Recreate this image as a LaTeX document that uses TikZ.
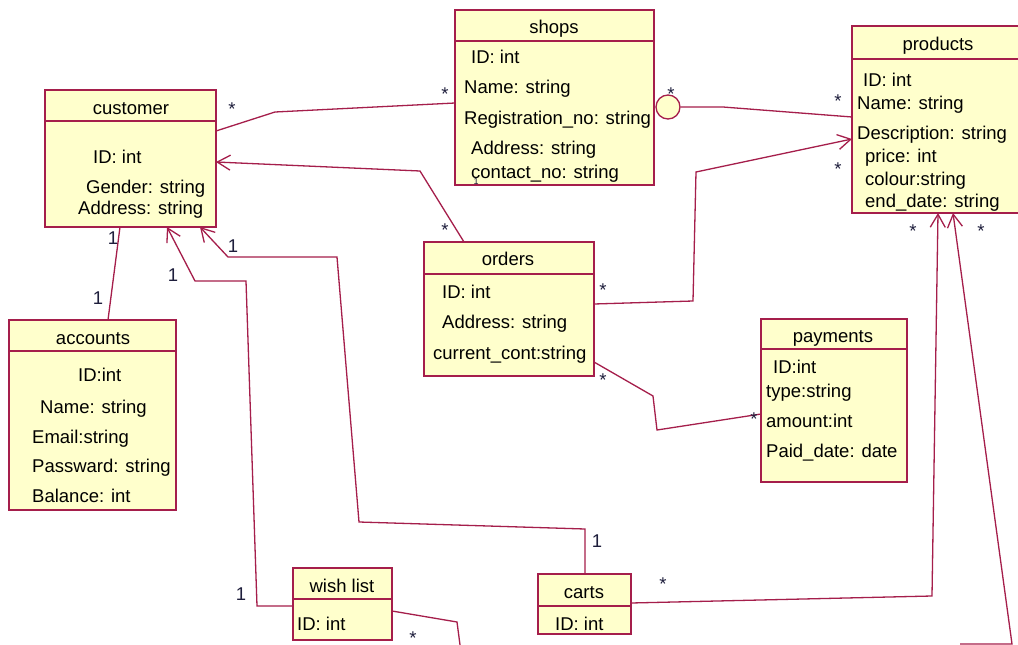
\documentclass[tikz,border=0pt]{standalone}
\usepackage{fontspec}
\setmainfont{Liberation Sans}
\usetikzlibrary{arrows.meta}
\definecolor{umlline}{RGB}{165,30,75}
\definecolor{umlfill}{RGB}{255,255,204}
\definecolor{lbl}{RGB}{30,30,60}
\tikzset{
  classbox/.style={draw=umlline, fill=umlfill, line width=1.5pt, anchor=north west, inner sep=0pt, outer sep=0pt},
  sepline/.style={draw=umlline, line width=1.5pt},
  attr/.style={anchor=base west, inner sep=0pt, font=\fontsize{18.5}{22}\selectfont},
  ttl/.style={anchor=base, inner sep=0pt, font=\fontsize{18.5}{22}\selectfont},
  conn/.style={draw=umlline, line width=1.3pt},
  arr/.style={conn, -{Straight Barb[length=13pt, width=15pt]}},
  mult/.style={inner sep=0pt, text=lbl, font=\fontsize{18.5}{22}\selectfont},
  star/.style={inner sep=0pt, anchor=north, text=lbl, font=\fontsize{18.5}{22}\selectfont}
}
\begin{document}
\begin{tikzpicture}[x=1pt,y=-1pt]
\useasboundingbox (0,0) rectangle (1018,645);
\fill[white] (0,0) rectangle (1018,645);
\clip (0,0) rectangle (1018,645);

% ---------- classes ----------
% customer
\node[classbox, minimum width=171pt, minimum height=137pt] (customer) at (45,90) {};
\draw[sepline] (customer.west |- 0,121) -- (customer.east |- 0,121);
\node[ttl] (customerT) at (131,114) {customer};
\node[attr] (customerA1) at (93,163) {ID: int};
\node[attr] (customerA2) at (86,193) {Gender: string};
\node[attr] (customerA3) at (78,214) {Address: string};

% shops
\node[classbox, minimum width=199pt, minimum height=175pt] (shops) at (455,10) {};
\draw[sepline] (shops.west |- 0,41) -- (shops.east |- 0,41);
\node[ttl] (shopsT) at (554,34) {shops};
\node[attr] (shopsA1) at (471,63) {ID: int};
\node[attr] (shopsA2) at (464,93) {Name: string};
\node[attr] (shopsA3) at (464,124) {Registration\_no: string};
\node[attr] (shopsA4) at (471,154) {Address: string};
\node[attr] (shopsA5) at (471,178) {contact\_no: string};

% products
\node[classbox, minimum width=174pt, minimum height=187pt] (products) at (852,26) {};
\draw[sepline] (products.west |- 0,59) -- (products.east |- 0,59);
\node[ttl] (productsT) at (938,50) {products};
\node[attr] (productsA1) at (863,86) {ID: int};
\node[attr] (productsA2) at (857,109) {Name: string};
\node[attr] (productsA3) at (857,139) {Description: string};
\node[attr] (productsA4) at (865,162) {price: int};
\node[attr] (productsA5) at (865,185) {colour:string};
\node[attr] (productsA6) at (865,207) {end\_date: string};

% orders
\node[classbox, minimum width=170pt, minimum height=134pt] (orders) at (424,242) {};
\draw[sepline] (orders.west |- 0,274) -- (orders.east |- 0,274);
\node[ttl] (ordersT) at (508,265) {orders};
\node[attr] (ordersA1) at (442,298) {ID: int};
\node[attr] (ordersA2) at (442,328) {Address: string};
\node[attr] (ordersA3) at (433,359) {current\_cont:string};

% payments
\node[classbox, minimum width=146pt, minimum height=163pt] (payments) at (761,319) {};
\draw[sepline] (payments.west |- 0,349) -- (payments.east |- 0,349);
\node[ttl] (paymentsT) at (833,342) {payments};
\node[attr] (paymentsA1) at (773,373) {ID:int};
\node[attr] (paymentsA2) at (766,397) {type:string};
\node[attr] (paymentsA3) at (766,427) {amount:int};
\node[attr] (paymentsA4) at (766,457) {Paid\_date: date};

% accounts
\node[classbox, minimum width=167pt, minimum height=190pt] (accounts) at (9,320) {};
\draw[sepline] (accounts.west |- 0,351) -- (accounts.east |- 0,351);
\node[ttl] (accountsT) at (93,344) {accounts};
\node[attr] (accountsA1) at (78,381) {ID:int};
\node[attr] (accountsA2) at (40,413) {Name: string};
\node[attr] (accountsA3) at (32,443) {Email:string};
\node[attr] (accountsA4) at (32,472) {Passward: string};
\node[attr] (accountsA5) at (32,502) {Balance: int};

% wish list
\node[classbox, minimum width=99pt, minimum height=72pt] (wish) at (293,568) {};
\draw[sepline] (wish.west |- 0,599) -- (wish.east |- 0,599);
\node[ttl] (wishT) at (342,592) {wish list};
\node[attr] (wishA1) at (297,630) {ID: int};

% carts
\node[classbox, minimum width=93pt, minimum height=60pt] (carts) at (538,574) {};
\draw[sepline] (carts.west |- 0,606) -- (carts.east |- 0,606);
\node[ttl] (cartsT) at (584,598) {carts};
\node[attr] (cartsA1) at (555,630) {ID: int};

% ---------- connectors ----------
\coordinate (offA) at (462,660);
\coordinate (offB) at (960,644);

\draw[conn] (customer.east |- 0,131) -- (275,112) -- (shops.west |- 0,103);
\draw[arr] (orders.north -| 464,0) -- (420,171) -- (customer.east |- 0,162);
\draw[conn] (customer.south -| 120,0) -- (accounts.north -| 108,0);
\draw[arr] (wish.west |- 0,606) -- (257,606) -- (246,281) -- (195,281) -- (customer.south -| 167,0);
\draw[arr] (carts.north -| 585,0) -- (585,529) -- (359,522) -- (337,257) -- (228,257) -- (customer.south -| 200,0);

\node[circle, draw=umlline, fill=umlfill, line width=1.3pt, minimum size=24pt, inner sep=0pt] (agg) at (668,107) {};
\draw[conn] (agg.east) -- (723,107) -- (products.west |- 0,117);

\draw[arr] (orders.east |- 0,304) -- (693,301) -- (696,172) -- (products.west |- 0,139);
\draw[conn] (orders.east |- 0,362) -- (653,396) -- (657,430) -- (payments.west |- 0,414);
\draw[arr] (carts.east |- 0,603) -- (932,596) -- (products.south -| 938,0);
\draw[arr] (offB) -- (1012,644) -- (products.south -| 953,0);
\draw[conn] (wish.east |- 0,611) -- (457,622) -- (offA);

% ---------- multiplicities ----------
\node[star] (m1) at (232,102.5) {*};
\node[star] (m2) at (445,87.5) {*};
\node[star] (m3) at (445,223.5) {*};
\node[star] (m4) at (671,87.5) {*};
\node[star] (m5) at (838,94.5) {*};
\node[star] (m6) at (603,283.5) {*};
\node[star] (m7) at (838,162.5) {*};
\node[star] (m8) at (603,373.5) {*};
\node[star] (m9) at (754,412.5) {*};
\node[star] (m10) at (663,577.5) {*};
\node[star] (m11) at (913,224.5) {*};
\node[star] (m12) at (981,224.5) {*};
\node[star] (m13) at (413,631.5) {*};

\node[mult] (n1) at (113,238) {1};
\node[mult] (n2) at (98,298) {1};
\node[mult] (n3) at (173,275) {1};
\node[mult] (n4) at (241,594) {1};
\node[mult] (n5) at (233,246) {1};
\node[mult] (n6) at (597,541) {1};
\node[mult, font=\fontsize{9}{10}\selectfont] (n7) at (476,181) {1};
\end{tikzpicture}
\end{document}
